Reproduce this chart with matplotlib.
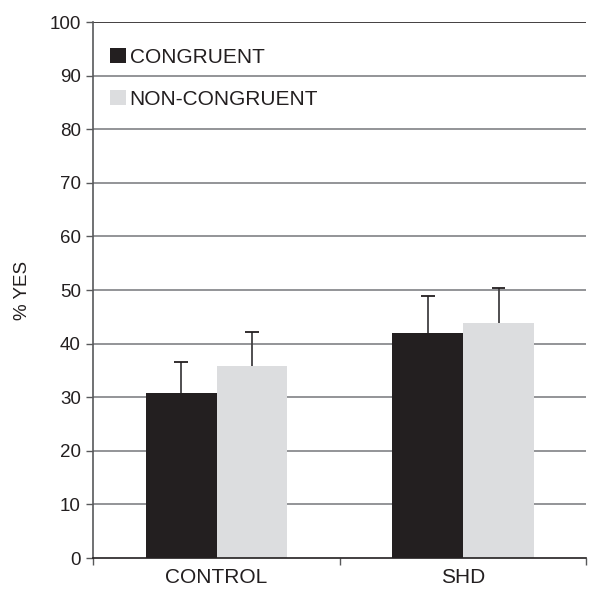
import matplotlib
matplotlib.use("Agg")
import matplotlib.pyplot as plt
import numpy as np
from matplotlib.patches import Patch

plt.rcParams['font.family'] = ['Liberation Sans', 'DejaVu Sans']

groups = ["CONTROL", "SHD"]
series_names = ["CONGRUENT", "NON-CONGRUENT"]
congruent = [30.8, 42.0]
non_congruent = [35.9, 43.9]
congruent_err = [5.8, 6.8]
non_congruent_err = [6.2, 6.5]
yticks = [0, 10, 20, 30, 40, 50, 60, 70, 80, 90, 100]

dark = "#231f20"
light = "#dcdddf"
grid_c = "#808285"
err_c = "#414042"

fig = plt.figure(figsize=(5.9, 5.89), dpi=100)
ax = fig.add_axes([0.158, 0.0526, 0.836, 0.91])

x = np.arange(len(groups))
w = 0.287
cap = 0.028

for yv in yticks[1:]:
    ax.axhline(yv, color=("#231f20" if yv == 100 else grid_c), lw=1.2, zorder=0)

ax.bar(x - w / 2, congruent, w, color=dark, zorder=2)
ax.bar(x + w / 2, non_congruent, w, color=light, zorder=2)

# one-sided (upper) error bars
for xs, vals, errs in [(x - w / 2, congruent, congruent_err),
                       (x + w / 2, non_congruent, non_congruent_err)]:
    vals = np.asarray(vals)
    tops = vals + np.asarray(errs)
    ax.vlines(xs, vals, tops, color=err_c, lw=1.3, zorder=1)
    ax.hlines(tops, xs - cap, xs + cap, color=dark, lw=1.3, zorder=1)

ax.set_xlim(-0.5, 1.5)
ax.set_ylim(0, 100)
ax.set_yticks(yticks)
ax.set_xticks(x)
ax.set_xticklabels(groups)
ax.set_xticks([-0.5, 0.5, 1.5], minor=True)
ax.tick_params(axis="x", which="major", length=0, pad=7, labelsize=15, labelcolor="#231f20")
ax.tick_params(axis="x", which="minor", length=5, width=1, color="#58595b")
ax.tick_params(axis="y", length=5, width=1, color="#58595b", labelsize=13.5, pad=4,
               labelcolor="#231f20")
ax.set_ylabel("% YES", fontsize=13.5, labelpad=13, color="#231f20")

for s in ["top", "right"]:
    ax.spines[s].set_visible(False)
ax.spines["left"].set_color("#58595b")
ax.spines["left"].set_linewidth(1.2)
ax.spines["bottom"].set_color("#231f20")
ax.spines["bottom"].set_linewidth(1.2)

handles = [Patch(facecolor=dark), Patch(facecolor=light)]
leg = ax.legend(handles, series_names, loc="upper left", bbox_to_anchor=(0.0, 0.983),
                frameon=False, fontsize=15, handlelength=0.75, handleheight=0.75,
                handletextpad=0.2, labelspacing=1.1, borderpad=0.3)
for t in leg.get_texts():
    t.set_color("#231f20")

fig.savefig("out.png", dpi=100)
